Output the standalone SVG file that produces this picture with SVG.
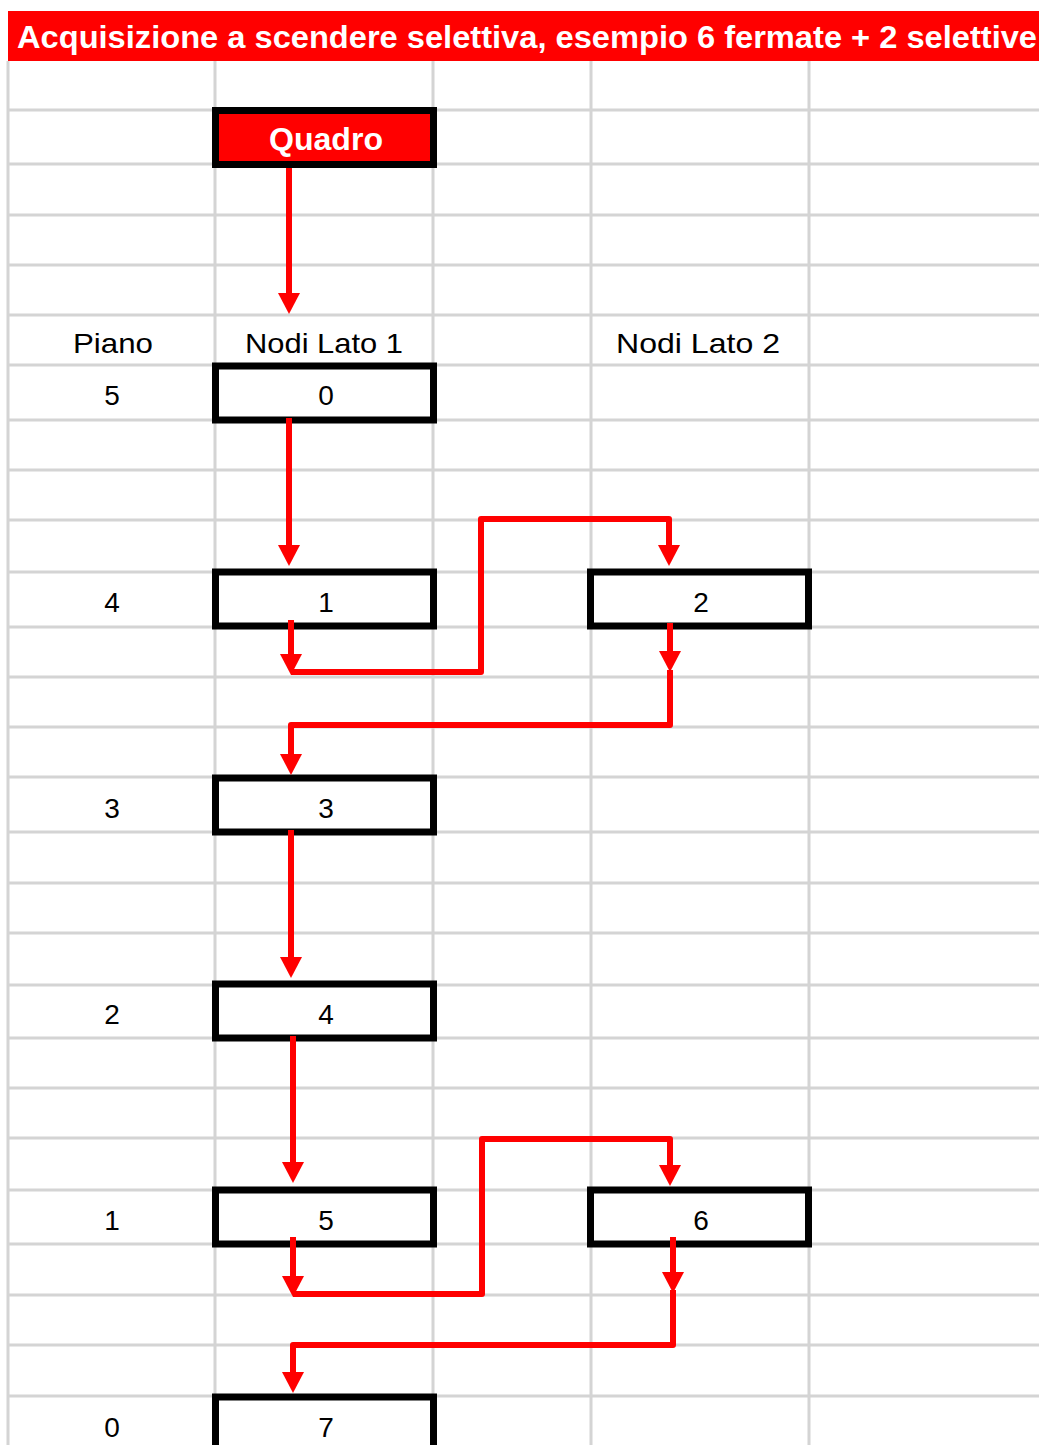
<svg xmlns="http://www.w3.org/2000/svg" width="1039" height="1445" viewBox="0 0 1039 1445">
<defs>
<style>
.grid line{stroke:#d4d4d4;stroke-width:3}
.box{fill:#ffffff;stroke:#000000;stroke-width:7}
.qbox{fill:#ff0000;stroke:#000000;stroke-width:7}
.lbl{font-family:"Liberation Sans",Arial,sans-serif;font-size:28px;fill:#000000;text-anchor:middle}
.title{font-family:"Liberation Sans",Arial,sans-serif;font-size:31px;font-weight:bold;fill:#ffffff}
.qt{font-family:"Liberation Sans",Arial,sans-serif;font-size:31px;font-weight:bold;fill:#ffffff;text-anchor:middle}
.conn path{fill:none;stroke:#ff0000;stroke-width:6;stroke-linejoin:round}
</style>
<marker id="ah" markerUnits="userSpaceOnUse" markerWidth="22" markerHeight="22" refX="0" refY="11" orient="auto" viewBox="0 0 22 22">
<path d="M0,0 L21,11 L0,22 Z" fill="#ff0000"/>
</marker>
</defs>
<rect x="0" y="0" width="1039" height="1445" fill="#ffffff"/>
<g class="grid">
<line x1="8" y1="110" x2="1039" y2="110"/>
<line x1="8" y1="164" x2="1039" y2="164"/>
<line x1="8" y1="215" x2="1039" y2="215"/>
<line x1="8" y1="265" x2="1039" y2="265"/>
<line x1="8" y1="315" x2="1039" y2="315"/>
<line x1="8" y1="365" x2="1039" y2="365"/>
<line x1="8" y1="420" x2="1039" y2="420"/>
<line x1="8" y1="470" x2="1039" y2="470"/>
<line x1="8" y1="520" x2="1039" y2="520"/>
<line x1="8" y1="572" x2="1039" y2="572"/>
<line x1="8" y1="627" x2="1039" y2="627"/>
<line x1="8" y1="677" x2="1039" y2="677"/>
<line x1="8" y1="727" x2="1039" y2="727"/>
<line x1="8" y1="777" x2="1039" y2="777"/>
<line x1="8" y1="832" x2="1039" y2="832"/>
<line x1="8" y1="883" x2="1039" y2="883"/>
<line x1="8" y1="933" x2="1039" y2="933"/>
<line x1="8" y1="985" x2="1039" y2="985"/>
<line x1="8" y1="1038" x2="1039" y2="1038"/>
<line x1="8" y1="1088" x2="1039" y2="1088"/>
<line x1="8" y1="1138" x2="1039" y2="1138"/>
<line x1="8" y1="1190" x2="1039" y2="1190"/>
<line x1="8" y1="1244" x2="1039" y2="1244"/>
<line x1="8" y1="1295" x2="1039" y2="1295"/>
<line x1="8" y1="1345" x2="1039" y2="1345"/>
<line x1="8" y1="1396" x2="1039" y2="1396"/>
<line x1="8" y1="61" x2="8" y2="1445"/>
<line x1="215" y1="61" x2="215" y2="1445"/>
<line x1="433" y1="61" x2="433" y2="1445"/>
<line x1="591" y1="61" x2="591" y2="1445"/>
<line x1="809" y1="61" x2="809" y2="1445"/>
</g>
<g id="title">
<rect x="8" y="11" width="1031" height="50" fill="#ff0000"/>
<text class="title" x="17" y="48" textLength="1020" lengthAdjust="spacingAndGlyphs">Acquisizione a scendere selettiva, esempio 6 fermate + 2 selettive</text>
</g>
<g id="headers">
<text class="lbl" x="113" y="353" textLength="80" lengthAdjust="spacingAndGlyphs">Piano</text>
<text class="lbl" x="324" y="353" textLength="158" lengthAdjust="spacingAndGlyphs">Nodi Lato 1</text>
<text class="lbl" x="698" y="353" textLength="164" lengthAdjust="spacingAndGlyphs">Nodi Lato 2</text>
</g>
<g id="piani">
<text class="lbl" x="112" y="405">5</text>
<text class="lbl" x="112" y="612">4</text>
<text class="lbl" x="112" y="818">3</text>
<text class="lbl" x="112" y="1024">2</text>
<text class="lbl" x="112" y="1230">1</text>
<text class="lbl" x="112" y="1437">0</text>
</g>
<g id="quadro">
<rect class="qbox" x="215.5" y="110.5" width="218" height="54"/>
<text class="qt" x="326" y="150" textLength="114" lengthAdjust="spacingAndGlyphs">Quadro</text>
</g>
<g id="node0">
<rect class="box" x="215.5" y="366" width="218" height="54"/>
<text class="lbl" x="326" y="405">0</text>
</g>
<g id="node1">
<rect class="box" x="215.5" y="572" width="218" height="54"/>
<text class="lbl" x="326" y="612">1</text>
</g>
<g id="node2">
<rect class="box" x="590.5" y="572" width="218" height="54"/>
<text class="lbl" x="701" y="612">2</text>
</g>
<g id="node3">
<rect class="box" x="215.5" y="778" width="218" height="54"/>
<text class="lbl" x="326" y="818">3</text>
</g>
<g id="node4">
<rect class="box" x="215.5" y="984" width="218" height="54"/>
<text class="lbl" x="326" y="1024">4</text>
</g>
<g id="node5">
<rect class="box" x="215.5" y="1190" width="218" height="54"/>
<text class="lbl" x="326" y="1230">5</text>
</g>
<g id="node6">
<rect class="box" x="590.5" y="1190" width="218" height="54"/>
<text class="lbl" x="701" y="1230">6</text>
</g>
<g id="node7">
<rect class="box" x="215.5" y="1397" width="218" height="60"/>
<text class="lbl" x="326" y="1437">7</text>
</g>
<g class="conn" id="connectors">
<path d="M289,168 L289,293" marker-end="url(#ah)"/>
<path d="M289,418 L289,545" marker-end="url(#ah)"/>
<path d="M291,620 L291,654" marker-end="url(#ah)"/>
<path d="M291,672 L481,672 L481,519 L669,519 L669,545" marker-end="url(#ah)"/>
<path d="M670,623 L670,651" marker-end="url(#ah)"/>
<path d="M670,670 L670,725 L291,725 L291,754" marker-end="url(#ah)"/>
<path d="M291,830 L291,957" marker-end="url(#ah)"/>
<path d="M293,1036 L293,1162" marker-end="url(#ah)"/>
<path d="M293,1237 L293,1276" marker-end="url(#ah)"/>
<path d="M293,1294 L482,1294 L482,1139 L670,1139 L670,1165" marker-end="url(#ah)"/>
<path d="M673,1237 L673,1272" marker-end="url(#ah)"/>
<path d="M673,1290 L673,1345 L293,1345 L293,1372" marker-end="url(#ah)"/>
</g>
</svg>
